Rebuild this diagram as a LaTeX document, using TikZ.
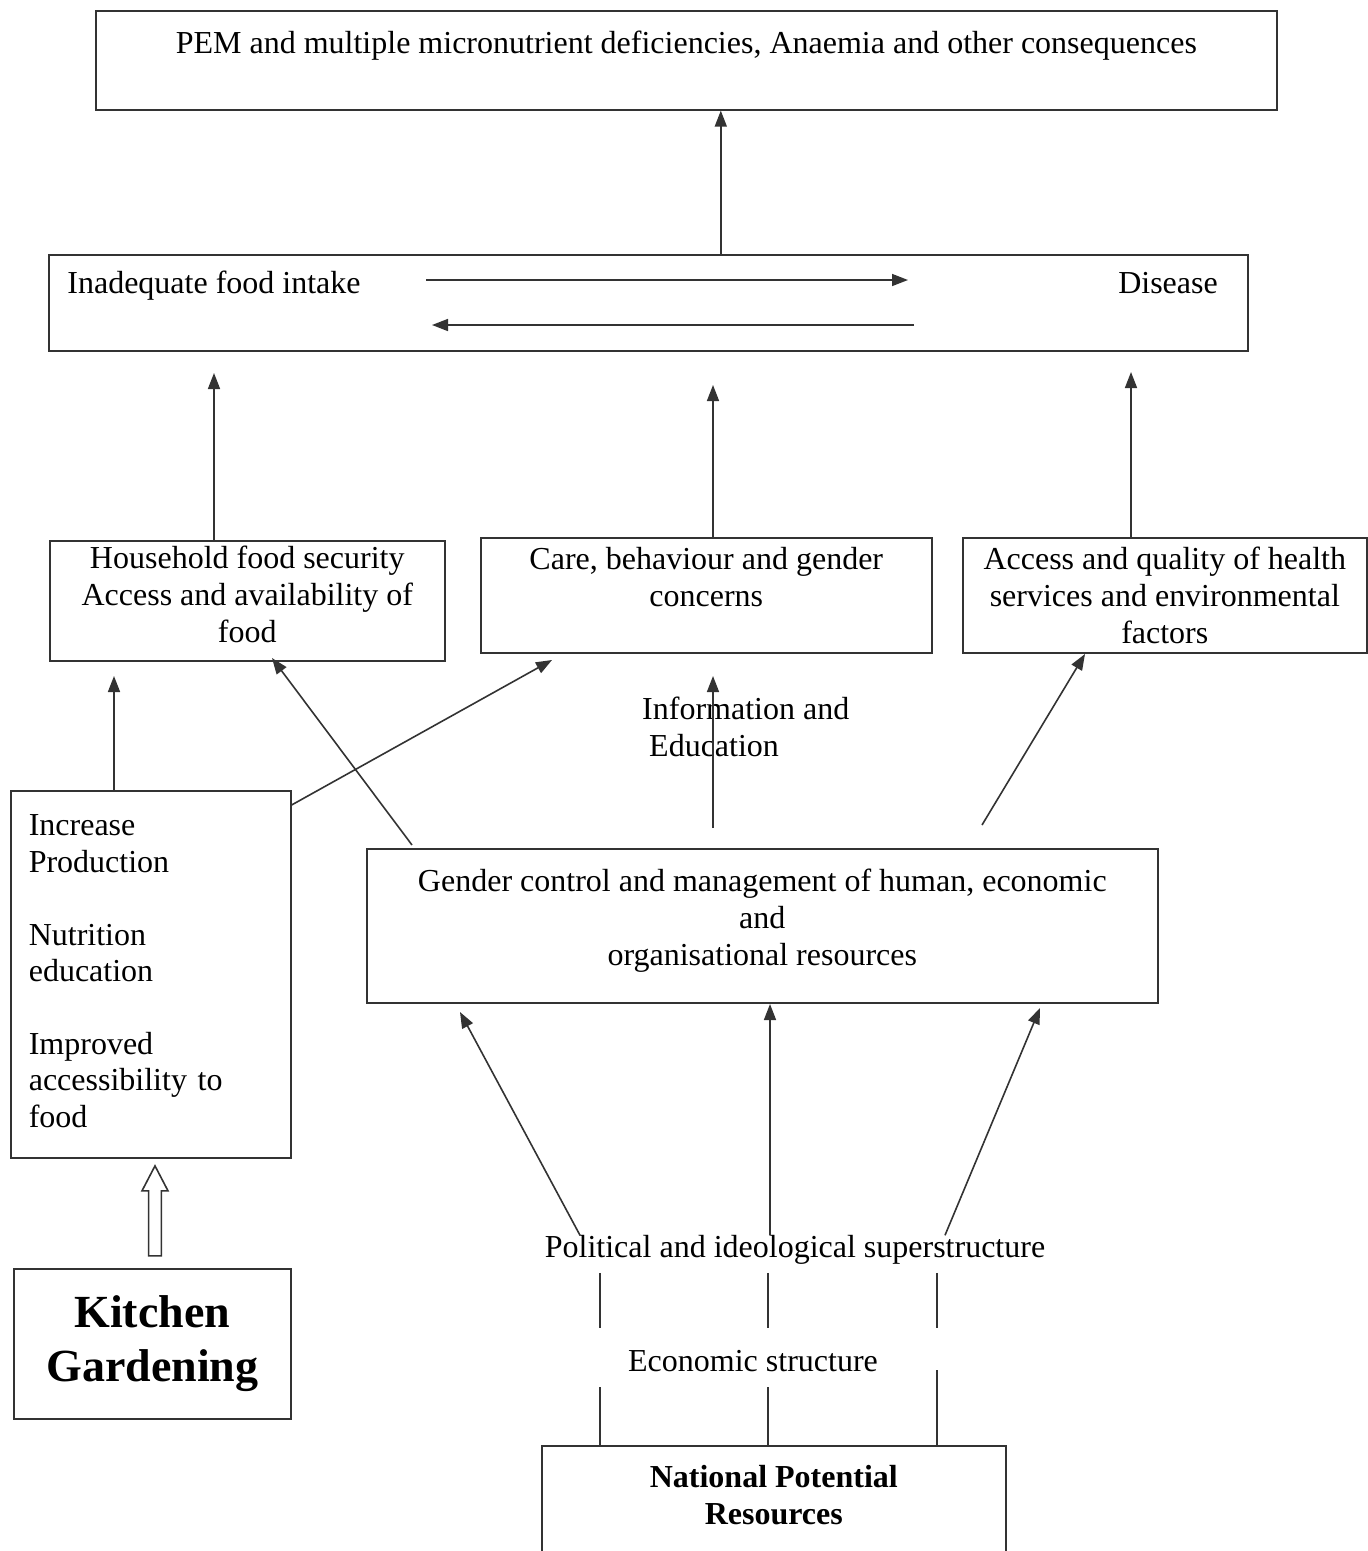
\documentclass[tikz,border=0pt]{standalone}
\usepackage{fontspec}
\setmainfont{Liberation Serif}
\usetikzlibrary{arrows.meta,shapes.arrows}
\newcommand{\fs}{\fontsize{32}{37}\selectfont}
\newcommand{\bigfs}{\fontsize{46}{54}\selectfont\bfseries}
\tikzset{
  box/.style = {draw=black!80, line width=1.6pt, rectangle, align=center,
    inner sep=0pt, anchor=north west},% framed block
  txt/.style = {align=center, inner sep=0pt},% plain label
  arr/.style = {->, draw=black!80, line width=1.6pt},% arrow with head
  bar/.style = {draw=black!80, line width=1.6pt},% link without head
  hollow/.style = {single arrow, draw=black!80, line width=1.6pt,
    shape border rotate=90, minimum height=90pt, minimum width=26pt,
    single arrow head extend=6pt, single arrow tip angle=55, inner sep=5pt}
}
\begin{document}
\begin{tikzpicture}[x=1pt,y=-1pt,font=\fs,>={Triangle[length=16pt,width=12pt]}]
\useasboundingbox (0,0) rectangle (1368,1551);

% top and second level
\node (pem) [box, minimum width=1181pt, minimum height=99pt] at (95,10)
  {PEM and multiple micronutrient deficiencies, Anaemia and other consequences\\ \mbox{}};
\node (intake) [box, minimum width=1199pt, minimum height=96pt] at (48,254) {};
\node (ifi) [txt] at (214,286) {Inadequate food intake};
\node (dis) [txt] at (1168,283) {Disease};
\coordinate (fw1) at (426,280); \coordinate (fw2) at (908,280);
\coordinate (bw1) at (914,325); \coordinate (bw2) at (432,325);
\draw[arr] (fw1) -- (fw2);
\draw[arr] (bw1) -- (bw2);
\draw[arr] (intake.north -| pem.south) ++(34.5,0) -- ([xshift=34.5pt]pem.south);

% underlying causes
\node (hfs) [box, minimum width=395pt, minimum height=120pt] at (49,540)
  {Household food security\\Access and availability of\\food\\[-24pt]\mbox{}};
\node (care) [box, minimum width=451pt, minimum height=115pt] at (480,537)
  {Care, behaviour and gender\\concerns\\ \mbox{}};
\node (health) [box, minimum width=404pt, minimum height=115pt] at (962,537)
  {Access and quality of health\\services and environmental\\factors};
\coordinate (u1) at (214,373); \coordinate (u2) at (713,385); \coordinate (u3) at (1131,372);
\draw[arr] (hfs.north -| u1) -- (u1);
\draw[arr] (care.north -| u2) -- (u2);
\draw[arr] (health.north -| u3) -- (u3);

% kitchen gardening branch
\node (prod) [box, align=left, font=\fontsize{32}{36.4}\selectfont, minimum width=280pt,
  minimum height=367pt, text width=244pt, inner xsep=18pt] at (10,790)
  {Increase\\Production\\ \mbox{}\\Nutrition\\education\\ \mbox{}\\Improved\\accessibility to\\food\\[-30pt]\mbox{}};
\node (kitchen) [box, font=\bigfs, minimum width=277pt, minimum height=150pt] at (13,1268)
  {Kitchen\\Gardening};
\node (kg) [hollow] at (155,1217) {};
\coordinate (k1) at (114,676); \coordinate (k2) at (552,660);
\draw[arr] (prod.north -| k1) -- (k1);
\draw[arr] ([yshift=-15pt]prod.north east) -- (k2);

% basic causes
\node (gender) [box, minimum width=791pt, minimum height=154pt] at (366,848)
  {Gender control and management of human, economic\\and\\organisational resources\\[-20pt]\mbox{}};
\node (info) [txt, align=left, anchor=west] at (642,727) {Information and\\\hspace{7pt}Education};
\coordinate (g1) at (272,658); \coordinate (g2) at (713,676);
\coordinate (g3a) at (982,825); \coordinate (g3) at (1085,654);
\draw[arr] ([xshift=46pt,yshift=3pt]gender.north west) -- (g1);
\draw[arr] ([yshift=20pt]gender.north -| g2) -- (g2);
\draw[arr] (g3a) -- (g3);

\node (polit) [txt] at (795,1250) {Political and ideological superstructure};
\node (econ) [txt] at (753,1361) {Economic structure};
\node (natres) [box, font=\fs\bfseries, minimum width=464pt, minimum height=172pt] at (541,1445)
  {National Potential\\Resources\\ \mbox{}\\ \mbox{}};
\coordinate (p1) at (460,1012); \coordinate (p2) at (770,1004); \coordinate (p3) at (1040,1008);
\draw[arr] ([xshift=-215pt]polit.north) -- (p1);
\draw[arr] ([xshift=-25pt]polit.north) -- (p2);
\draw[arr] ([xshift=150pt]polit.north) -- (p3);
\coordinate (l1) at (600,1328); \coordinate (l2) at (768,1328); \coordinate (l3) at (937,1328);
\draw[bar] ([yshift=-8pt]polit.south -| l1) -- (l1);
\draw[bar] ([yshift=-8pt]polit.south -| l2) -- (l2);
\draw[bar] ([yshift=-8pt]polit.south -| l3) -- (l3);
\draw[bar] (natres.north -| l1) -- ++(0,-58);
\draw[bar] (natres.north -| l2) -- ++(0,-58);
\draw[bar] (natres.north -| l3) -- ++(0,-75);
\end{tikzpicture}
\end{document}
